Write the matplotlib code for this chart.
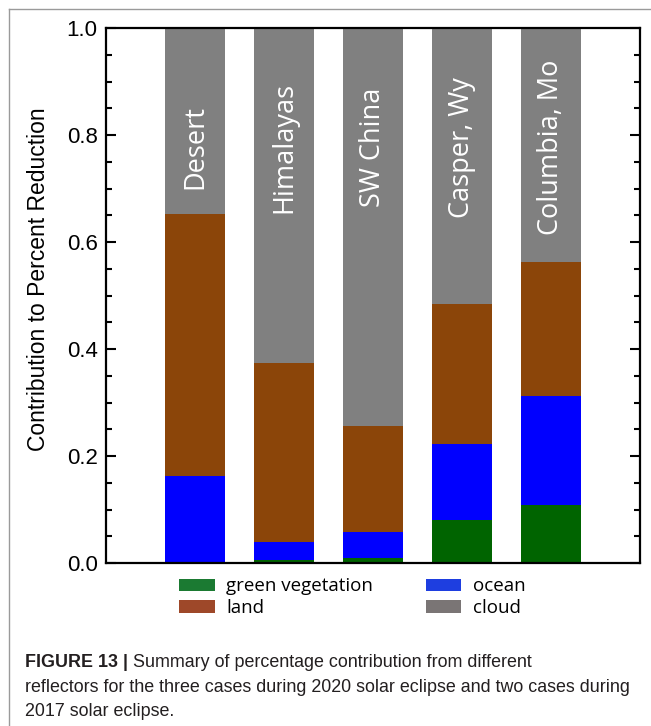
import numpy as np
import matplotlib.pyplot as plt
from matplotlib.patches import Patch
from matplotlib.lines import Line2D
from matplotlib.ticker import MultipleLocator

# contribution of each reflector type to the percent reduction
sites = ["Desert", "Himalayas", "SW China", "Casper, Wy", "Columbia, Mo"]
green_veg = [0.002, 0.006, 0.010, 0.080, 0.108]
ocean = [0.160, 0.034, 0.048, 0.142, 0.204]
land = [0.490, 0.333, 0.198, 0.262, 0.251]
cloud = [0.348, 0.627, 0.744, 0.516, 0.437]

layers = [
    ("green vegetation", green_veg, "#006400", "#1b7a32"),
    ("ocean", ocean, "#0000ff", "#1e3ee0"),
    ("land", land, "#8b4509", "#9e4829"),
    ("cloud", cloud, "#808080", "#7a7575"),
]

W, H = 651, 726
fig = plt.figure(figsize=(W / 100, H / 100), dpi=100)
ax = fig.add_axes([106 / W, 1 - 563 / H, 534 / W, 535 / H])

x = np.arange(1, len(sites) + 1)
bottom = np.zeros(len(sites))
for name, vals, col, _ in layers:
    ax.bar(x, vals, width=0.685, bottom=bottom, color=col, linewidth=0)
    bottom += np.array(vals)

# site names written inside the cloud part of each bar
for xi, s in zip(x, sites):
    ax.text(xi, 0.777, s, rotation=90, ha="center", va="center",
            color="white", fontsize=19.5, family="Open Sans")

ax.set_xlim(0, 6)
ax.set_ylim(0, 1.0)
ax.set_xticks([])
ax.yaxis.set_major_locator(MultipleLocator(0.2))
ax.yaxis.set_minor_locator(MultipleLocator(0.05))
ax.tick_params(axis="y", which="both", direction="in", left=True, right=True,
               width=1.5, labelsize=16, pad=6)
ax.tick_params(axis="y", which="major", length=7.5)
ax.tick_params(axis="y", which="minor", length=4)
for lab in ax.get_yticklabels():
    lab.set_family("Liberation Sans")
for sp in ax.spines.values():
    sp.set_linewidth(1.6)
ax.set_ylabel("Contribution to Percent Reduction", fontsize=16.5,
              family="Liberation Sans")
ax.yaxis.set_label_coords(-0.105, 0.53)

handles = [Patch(facecolor=lc, edgecolor="none", label=name)
           for name, _, _, lc in layers]
order = [0, 2, 1, 3]
fig.legend([handles[i] for i in order], [layers[i][0] for i in order],
           ncol=2, loc="upper left", bbox_to_anchor=(170 / W, 1 - 568 / H),
           frameon=False, prop={"family": "Open Sans", "size": 13.5},
           handlelength=1.9, handleheight=0.65, handletextpad=0.6,
           columnspacing=2.8, labelspacing=0.2, borderpad=0)

# thin frame around the figure panel
fig.add_artist(Line2D([9 / W, 1], [1 - 9 / H, 1 - 9 / H], color="#9a9a9a", lw=1))
fig.add_artist(Line2D([9 / W, 9 / W], [0, 1 - 9 / H], color="#9a9a9a", lw=1))

cap_size = 12.9
cap_kw = dict(fontsize=cap_size, family="Liberation Sans", color="#231f20", va="baseline")
t0 = fig.text(25 / W, 1 - 667 / H, "FIGURE 13 |", weight="bold", **cap_kw)
ax.annotate(" Summary of percentage contribution from different",
            xy=(1, 0), xycoords=t0, xytext=(0, 0), textcoords="offset points",
            fontsize=cap_size, family="Liberation Sans", color="#231f20", va="bottom")
fig.text(25 / W, 1 - 692 / H,
         "reflectors for the three cases during 2020 solar eclipse and two cases during",
         **cap_kw)
fig.text(25 / W, 1 - 716 / H, "2017 solar eclipse.", **cap_kw)

fig.savefig("out.png", dpi=100)
